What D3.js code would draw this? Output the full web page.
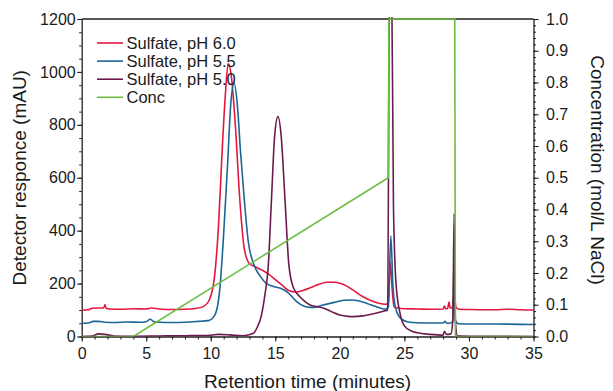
<!DOCTYPE html>
<html>
<head>
<meta charset="utf-8">
<script src="https://cdn.jsdelivr.net/npm/d3@7"></script>
<style>
  body { margin: 0; background: #fff; }
  text { font-family: "Liberation Sans", Arial, sans-serif; fill: #1a1a1a; }
</style>
</head>
<body>
<script>
// legend / series names
var seriesNames = ["Sulfate, pH 6.0", "Sulfate, pH 5.5", "Sulfate, pH 5.0", "Conc"];
var seriesColors = ["#e5173f", "#1b6597", "#6b1b4e", "#6cbd45"];

// x ticks, y ticks
var xTicks = [0, 5, 10, 15, 20, 25, 30, 35];
var yTicks = [0, 200, 400, 600, 800, 1000, 1200];
var cTicks = [0, 0.1, 0.2, 0.3, 0.4, 0.5, 0.6, 0.7, 0.8, 0.9, 1.0];

// Sulfate, pH 6.0
var red_t = [0, 0.5, 0.8, 1.7, 1.8, 1.9, 2.2, 3, 4, 5, 5.4, 6, 7, 8, 8.8, 9.4, 9.9, 10.3, 10.6, 10.9, 11.15, 11.35, 11.6, 11.9, 12.25, 12.6, 13.0, 13.4, 14.0, 14.5, 15.0, 15.5, 16.0, 16.6, 17.2, 18.0, 19.0, 19.6, 20.2, 21.0, 21.8, 22.6, 23.5, 23.75, 23.9, 24.05, 24.2, 24.5, 25, 26, 27, 28, 28.1, 28.2, 28.35, 28.45, 28.55, 28.7, 28.85, 29.0, 29.2, 30, 32, 33, 34, 35];
var red_v = [100, 101, 107, 108, 120, 106, 104, 103, 105, 104, 108, 104, 102, 103, 106, 113, 140, 230, 420, 720, 930, 1032, 980, 800, 516, 330, 275, 265, 250, 235, 215, 195, 175, 168, 175, 190, 205, 205, 198, 176, 150, 132, 122, 125, 280, 180, 112, 108, 105, 104, 103, 104, 115, 105, 106, 130, 108, 108, 160, 110, 103, 102, 101, 103, 101, 100];

// Sulfate, pH 5.5
var blue_t = [0, 0.5, 0.9, 1.3, 1.8, 2.5, 3.5, 4.5, 5.0, 5.3, 5.6, 6, 7, 8, 9, 9.8, 10.3, 10.7, 11.0, 11.3, 11.55, 11.8, 12.05, 12.3, 12.6, 12.9, 13.3, 13.8, 14.3, 14.8, 15.4, 16.0, 16.65, 17.2, 17.7, 18.2, 18.7, 19.5, 20.3, 20.9, 21.5, 22.1, 22.8, 23.5, 23.75, 23.95, 24.1, 24.3, 24.6, 25.2, 26, 27, 28, 28.15, 28.3, 28.6, 28.75, 28.85, 28.95, 29.2, 30, 32, 34, 35];
var blue_v = [50, 51, 57, 57, 54, 53, 55, 54, 56, 65, 56, 54, 53, 54, 57, 60, 80, 180, 390, 650, 880, 957, 880, 700, 516, 360, 277, 230, 201, 190, 182, 165, 132, 115, 110, 112, 119, 128, 137, 138, 134, 125, 113, 103, 110, 380, 200, 110, 75, 56, 52, 51, 51, 57, 50, 51, 60, 300, 60, 48, 47, 47, 46, 45];

// Sulfate, pH 5.0
var purple_t = [0, 0.8, 1.3, 1.8, 2.5, 4, 6, 8, 10, 10.6, 11.5, 12.5, 13.3, 13.6, 13.9, 14.2, 14.45, 14.7, 14.95, 15.2, 15.45, 15.75, 16.05, 16.4, 16.9, 17.3, 17.7, 18.2, 18.7, 19.3, 20.0, 20.5, 21.0, 21.8, 22.7, 23.5, 23.7, 23.85, 24.0, 24.15, 24.35, 24.65, 25.0, 25.5, 26, 27, 28, 28.1, 28.25, 28.6, 28.75, 28.85, 28.95, 29.1, 30, 35];
var purple_v = [0, 2, 10, 8, 2, 1, 2, 3, 5, 8, 6, 3, 12, 35, 75, 160, 264, 516, 760, 831, 760, 516, 270, 185, 150, 132, 119, 113, 108, 95, 81, 77, 75, 78, 87, 97, 100, 1400, 1400, 500, 200, 90, 40, 22, 14, 8, 5, 20, 8, 10, 60, 465, 60, 3, 1, 0];

// Conc (mol/L NaCl)
var conc_t = [0, 4.0, 23.75, 23.8, 28.9, 28.95, 35];
var conc_v = [0, 0, 0.5, 1.0, 1.0, 0, 0];

function init() {
    var W = 613, H = 391;
    var left = 81.7, right = 533.5, top = 19, bottom = 336.5;

    var svg = d3.select("body").append("svg")
        .attr("width", W)
        .attr("height", H);

    var x = d3.scaleLinear().domain([0, 35]).range([left, right]);
    var y = d3.scaleLinear().domain([0, 1200]).range([bottom, top]);
    var yc = d3.scaleLinear().domain([0, 1]).range([bottom, top]);

    svg.append("clipPath").attr("id", "plot")
        .append("rect")
        .attr("x", left).attr("y", top - 2)
        .attr("width", right - left).attr("height", bottom - top + 2);

    // frame top line
    svg.append("line")
        .attr("x1", left).attr("x2", right)
        .attr("y1", top).attr("y2", top)
        .attr("stroke", "#231f20").attr("stroke-width", 1.3);

    // minor ticks
    var minor = function(g) {
        g.select(".domain").remove();
        g.selectAll("text").remove();
        g.selectAll("line").attr("stroke", "#231f20").attr("stroke-width", 1);
    };
    svg.append("g").attr("transform", "translate(" + left + ",0)")
        .call(d3.axisLeft(y).tickValues(d3.range(0, 1201, 50)).tickSize(2.5))
        .call(minor);
    svg.append("g").attr("transform", "translate(0," + bottom + ")")
        .call(d3.axisBottom(x).tickValues(d3.range(0, 36, 1)).tickSize(3))
        .call(minor);
    svg.append("g").attr("transform", "translate(" + right + ",0)")
        .call(d3.axisRight(yc).tickValues(d3.range(0, 51).map(function(i) { return i * 0.02; })).tickSize(2.5))
        .call(minor);

    var major = function(g) {
        g.selectAll("path.domain").attr("stroke", "#231f20").attr("stroke-width", 1.3);
        g.selectAll("line").attr("stroke", "#231f20").attr("stroke-width", 1.1);
        g.selectAll("text").attr("font-size", "16px").attr("fill", "#1a1a1a")
            .attr("font-family", "Liberation Sans, Arial, sans-serif");
    };

    svg.append("g").attr("transform", "translate(" + left + ",0)")
        .call(d3.axisLeft(y).tickValues(yTicks).tickFormat(d3.format("d")).tickSize(4.5).tickPadding(1.5).tickSizeOuter(0))
        .call(major);
    svg.append("g").attr("transform", "translate(0," + bottom + ")")
        .call(d3.axisBottom(x).tickValues(xTicks).tickSize(5).tickPadding(6).tickSizeOuter(0))
        .call(major);
    svg.append("g").attr("transform", "translate(" + right + ",0)")
        .call(d3.axisRight(yc).tickValues(cTicks).tickFormat(d3.format(".1f")).tickSize(5).tickPadding(7.5).tickSizeOuter(0))
        .call(major);

    // traces
    var line = d3.line()
        .x(function(d) { return x(d[0]); })
        .y(function(d) { return y(d[1]); })
        .curve(d3.curveMonotoneX);

    var traces = [[red_t, red_v], [blue_t, blue_v], [purple_t, purple_v]];
    var plot = svg.append("g").attr("clip-path", "url(#plot)");
    traces.forEach(function(s, i) {
        plot.append("path")
            .datum(d3.zip(s[0], s[1]))
            .attr("fill", "none")
            .attr("stroke", seriesColors[i])
            .attr("stroke-width", 1.6)
            .attr("d", line);
    });

    var cline = d3.line()
        .x(function(d) { return x(d[0]); })
        .y(function(d) { return yc(d[1]); });
    plot.append("path")
        .datum(d3.zip(conc_t, conc_v))
        .attr("fill", "none")
        .attr("stroke", seriesColors[3])
        .attr("stroke-width", 1.6)
        .attr("d", cline);

    // legend
    var legend = svg.append("g");
    seriesNames.forEach(function(name, i) {
        var ly = 43 + i * 18.1;
        legend.append("line")
            .attr("x1", 97).attr("x2", 123)
            .attr("y1", ly).attr("y2", ly)
            .attr("stroke", seriesColors[i]).attr("stroke-width", 1.6);
        legend.append("text")
            .attr("x", 126.5).attr("y", ly)
            .attr("dy", "0.35em")
            .attr("font-size", "16.5px")
            .text(name);
    });

    // axis titles
    svg.append("text")
        .attr("x", (left + right) / 2).attr("y", 388)
        .attr("text-anchor", "middle")
        .attr("font-size", "19px")
        .text("Retention time (minutes)");

    svg.append("text")
        .attr("transform", "translate(26," + ((top + bottom) / 2) + ") rotate(-90)")
        .attr("text-anchor", "middle")
        .attr("font-size", "19px")
        .text("Detector responce (mAU)");

    svg.append("text")
        .attr("transform", "translate(591,170) rotate(90)")
        .attr("text-anchor", "middle")
        .attr("font-size", "19px")
        .text("Concentration (mol/L NaCl)");
}

window.onload = init;
</script>
</body>
</html>
